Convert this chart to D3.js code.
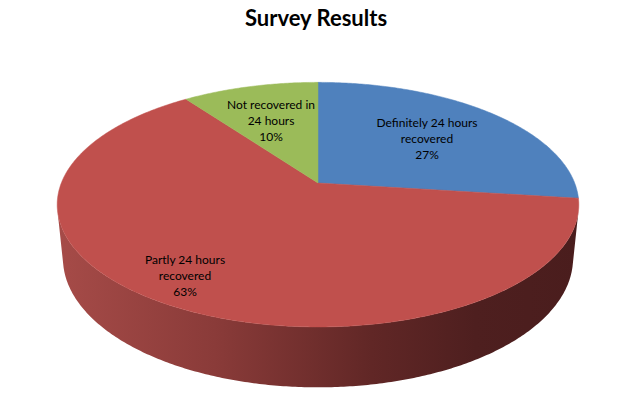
<!DOCTYPE html>
<html><head><meta charset="utf-8">
<script src="https://cdn.jsdelivr.net/npm/d3@7"></script>
<style>html,body{margin:0;padding:0;background:#fff;}svg{display:block;}</style>
</head><body>
<svg id="chart" width="622" height="418"></svg>
<script>
// Data
const categories = ["Definitely 24 hours recovered", "Partly 24 hours recovered", "Not recovered in 24 hours"];
const values = [27, 63, 10];
const labelLines = [["Definitely 24 hours", "recovered", "27%"], ["Partly 24 hours", "recovered", "63%"], ["Not recovered in", "24 hours", "10%"]];
const colors = ["#4F81BD", "#C0504D", "#9BBB59"];
const title = "Survey Results";

const svg = d3.select("#chart");
const W = 622, H = 418;

// perspective projection of a flat cylinder
const cx = 318, cy = 183, K = 1286, D = 5.01;
const alpha = Math.asin(0.4615), sa = Math.sin(alpha), ca = Math.cos(alpha);
const h = 0.238;
function proj(theta, Y) {
  const X = Math.sin(theta), Z = Math.cos(theta);
  const depth = D - Y * sa + Z * ca;
  const yc = Y * ca + Z * sa;
  return [cx + K * X / depth, cy - K * yc / depth];
}
function projCenter(Y) {
  const depth = D - Y * sa;
  return [cx, cy - K * (Y * ca) / depth];
}
function arcPts(a0, a1, Y) {
  const n = Math.max(2, Math.ceil(Math.abs(a1 - a0) / 0.01));
  return d3.range(n + 1).map(i => proj(a0 + (a1 - a0) * i / n, Y));
}

const pie = d3.pie().sort(null).value(d => d)(values);

// side gradient
const defs = svg.append("defs");
const grad = defs.append("linearGradient").attr("id", "side").attr("gradientUnits", "userSpaceOnUse")
  .attr("x1", 58).attr("x2", 580).attr("y1", 0).attr("y2", 0);
[[0, "#A64B48"], [0.3, "#8A3B39"], [0.6, "#612726"], [0.8, "#4E1F1F"], [1, "#4A1D1D"]]
  .forEach(([o, c]) => grad.append("stop").attr("offset", o).attr("stop-color", c));

const line = d3.line();
// visible side range: cos(theta) < -1/(D*ca)
const lim = Math.acos(-1 / (D * ca));
const vis0 = lim, vis1 = 2 * Math.PI - lim;
pie.forEach((p, i) => {
  const a0 = Math.max(p.startAngle, vis0), a1 = Math.min(p.endAngle, vis1);
  if (a1 > a0) {
    const pts = arcPts(a0, a1, 0).concat(arcPts(a1, a0, -h));
    svg.append("path").attr("d", line(pts) + "Z").attr("fill", i === 1 ? "url(#side)" : d3.color(colors[i]).darker(1.2));
  }
});

// top faces
pie.forEach((p, i) => {
  const pts = [projCenter(0)].concat(arcPts(p.startAngle, p.endAngle, 0));
  svg.append("path").attr("d", line(pts) + "Z").attr("fill", colors[i])
    .attr("stroke", colors[i]).attr("stroke-width", 0.5);
});

// labels
const labelPos = [[427, 123], [185, 260], [271, 105]];
const font = "Lato, 'Open Sans', sans-serif";
pie.forEach((p, i) => {
  const t = svg.append("text").attr("text-anchor", "middle").attr("font-family", font)
    .attr("font-size", 12).attr("fill", "#000");
  labelLines[i].forEach((s, j) => {
    t.append("tspan").attr("x", labelPos[i][0]).attr("y", labelPos[i][1] + 4 + j * 16).text(s);
  });
});

svg.append("text").attr("x", 316).attr("y", 26).attr("text-anchor", "middle")
  .attr("font-family", font).attr("font-weight", "bold").attr("font-size", 22).text(title);
</script>
</body></html>
